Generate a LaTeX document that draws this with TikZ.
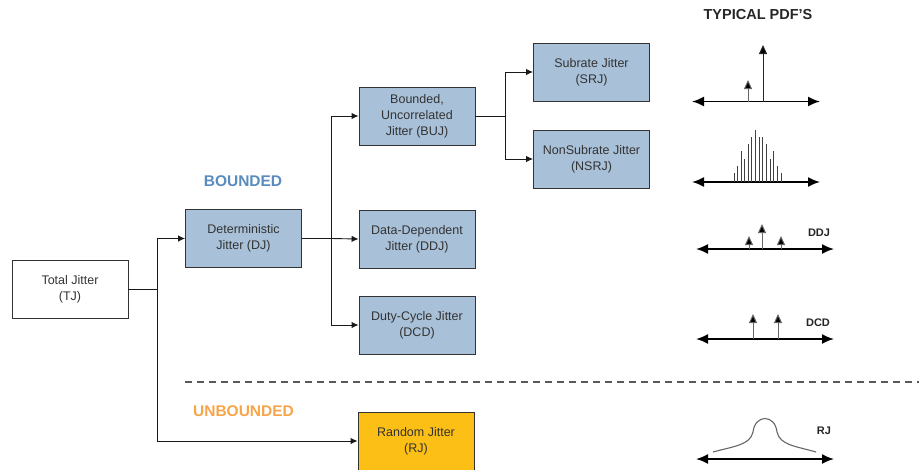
\documentclass[tikz,border=0pt]{standalone}
\usepackage{fontspec}
\setmainfont{Liberation Sans}
\usetikzlibrary{arrows.meta}
\definecolor{boxblue}{HTML}{A8C0D8}
\definecolor{boxgold}{HTML}{FBBF16}
\definecolor{bndblue}{HTML}{5A8BBE}
\definecolor{unborange}{HTML}{F7A54A}
\definecolor{txtgrey}{HTML}{333333}
\definecolor{spikegrey}{HTML}{666666}
\begin{document}
\begin{tikzpicture}[x=1pt,y=-1pt,
  jbox/.style={draw=black!80, line width=0.9pt, minimum width=116pt, minimum height=58pt,
    align=center, font=\fontsize{12.5}{16}\selectfont, text=txtgrey, inner sep=0pt},
  conn/.style={line width=0.9pt, draw=black!90},
  arr/.style={conn, -{Latex[length=7pt,width=6.5pt]}},
  pdfaxis/.style={line width=1.8pt, draw=black, {Latex[length=12pt,width=10pt]}-{Latex[length=12pt,width=10pt]}},
  spike/.style={line width=1pt, draw=spikegrey, -{Triangle[length=9pt,width=8pt,fill=black]}},
  bar/.style={line width=1pt, draw=black!75},
  hdr/.style={font=\fontsize{15.5}{18}\selectfont\bfseries},
  pdflabel/.style={font=\fontsize{11}{13}\selectfont\bfseries, text=black!85}]
\useasboundingbox (0,0) rectangle (919,469);

% boxes
\node[jbox, fill=white] (TJ) at (70,289) {Total Jitter\\(TJ)};
\node[jbox, fill=boxblue] (DJ) at (243.5,238.5) {Deterministic\\Jitter (DJ)};
\node[jbox, fill=boxblue] (BUJ) at (417,116) {Bounded,\\Uncorrelated\\Jitter (BUJ)};
\node[jbox, fill=boxblue] (SRJ) at (591.5,72) {Subrate Jitter\\(SRJ)};
\node[jbox, fill=boxblue] (NSRJ) at (591.5,159) {NonSubrate Jitter\\(NSRJ)};
\node[jbox, fill=boxblue] (DDJ) at (417,239) {Data-Dependent\\Jitter (DDJ)};
\node[jbox, fill=boxblue] (DCD) at (417,325) {Duty-Cycle Jitter\\(DCD)};
\node[jbox, fill=boxgold] (RJ) at (416,441) {Random Jitter\\(RJ)};

% connectors
\coordinate (j1) at (157,289);
\coordinate (j2) at (331,238.5);
\coordinate (j3) at (505,116);
\draw[conn] (TJ.east) -- (j1);
\draw[arr] (j1) |- (DJ.west);
\draw[arr] (j1) |- (RJ.west);
\draw[conn] (DJ.east) -- (j2);
\draw[arr] (j2) |- (BUJ.west);
\draw[arr] (j2) -- (DDJ.west);
\draw[arr] (j2) |- (DCD.west);
\draw[conn] (BUJ.east) -- (j3);
\draw[arr] (j3) |- (SRJ.west);
\draw[arr] (j3) |- (NSRJ.west);

% labels
\node[hdr, text=bndblue] (bnd) at (243,181) {BOUNDED};
\node[hdr, text=unborange] (unb) at (243.5,411) {UNBOUNDED};
\node[font=\fontsize{14.5}{16}\selectfont\bfseries, text=black!85] (typ) at (758,15) {TYPICAL PDF'S};

% dashed separator
\draw[line width=1.2pt, draw=black!65, dash pattern=on 7pt off 5pt] (185,382) -- (919,382);

% PDF 1: SRJ
\draw[pdfaxis] (692,101.5) -- (820,101.5);
\draw[spike] (748,101.5) -- (748,80);
\draw[spike, draw=black!85] (763,101.5) -- (763,45);

% PDF 2: NSRJ
\draw[pdfaxis] (692,182) -- (820,182);
\foreach \xx/\hh in {734/9,737.3/15.7,741/30.7,744.7/23,748/38,751.7/44.7,755.3/51.7,759/44.7,762.7/44.7,766.3/38,770/23,773.7/30.7,777.3/15.7,781/9}
  \draw[bar] (\xx,182) -- (\xx,182-\hh);

% PDF 3: DDJ
\draw[pdfaxis] (696,249) -- (834,249);
\draw[spike] (749,249) -- (749,236);
\draw[spike] (762,249) -- (762,224);
\draw[spike] (781,249) -- (781,236);
\node[pdflabel] (lddj) at (819,233) {DDJ};

% PDF 4: DCD
\draw[pdfaxis] (696,339) -- (834,339);
\draw[spike] (753,339) -- (753,314);
\draw[spike] (778,339) -- (778,314);
\node[pdflabel] (ldcd) at (818,323) {DCD};

% PDF 5: RJ
\draw[pdfaxis] (696,459) -- (834,459);
\draw[line width=1.1pt, draw=black!60] (713,452) .. controls (735,446) and (750,445) .. (753,432)
  .. controls (755,414) and (775,414) .. (777,432)
  .. controls (780,445) and (795,446) .. (816,452);
\node[pdflabel] (lrj) at (824,431) {RJ};
\end{tikzpicture}
\end{document}
